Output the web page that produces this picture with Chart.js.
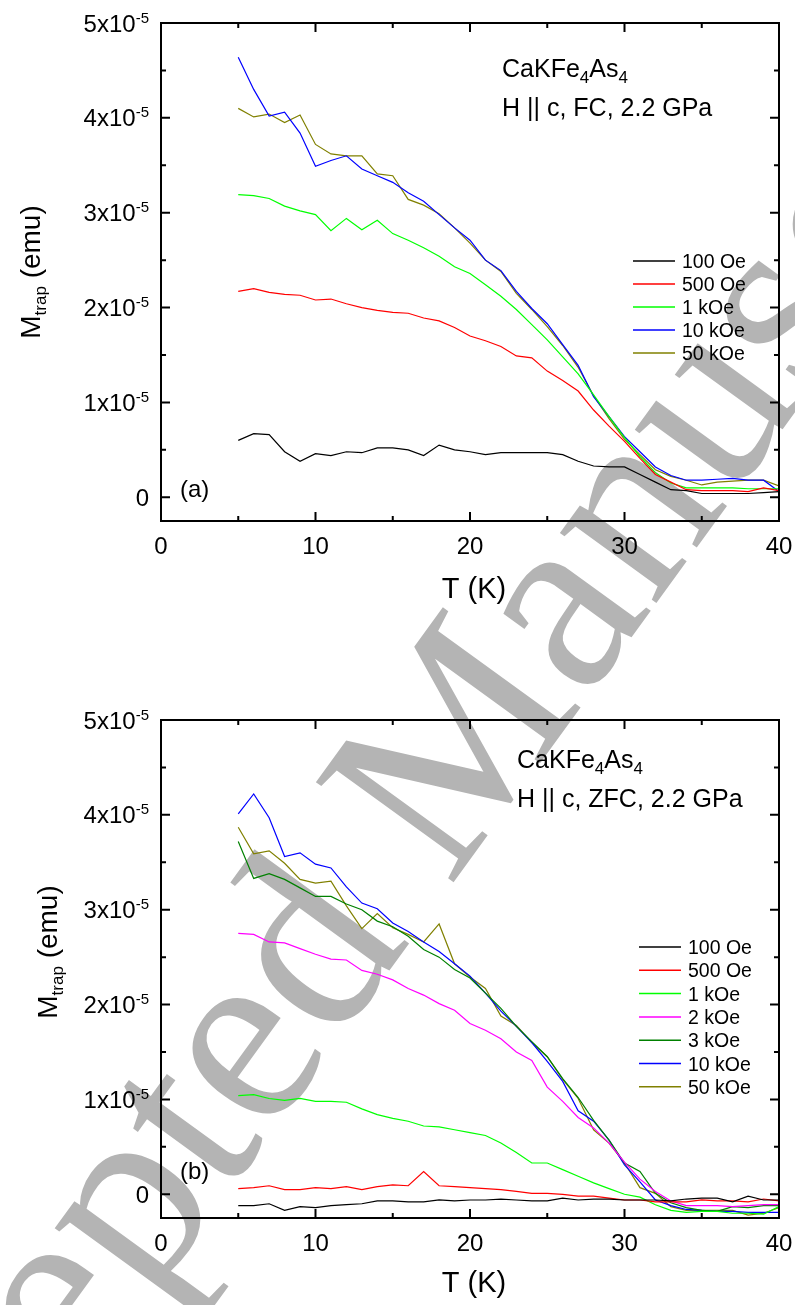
<!DOCTYPE html>
<html>
<head>
<meta charset="utf-8">
<script src="https://cdn.jsdelivr.net/npm/chart.js@4.4.1/dist/chart.umd.min.js"></script>
<style>
  body { margin: 0; background: #fff; }
  #wrap { position: relative; width: 795px; height: 1305px; overflow: hidden; }
  #wm { position: absolute; left: 0; top: 0; }
  .box { position: absolute; left: 0; }
</style>
</head>
<body>
<div id="wrap">
  <canvas id="wm" width="795" height="1305"></canvas>
  <div class="box" style="top:0"><canvas id="g1" width="795" height="640"></canvas></div>
  <div class="box" style="top:640px"><canvas id="g2" width="795" height="665"></canvas></div>
</div>
<script>
// temperature (K)
var temps = [5,6,7,8,9,10,11,12,13,14,15,16,17,18,19,20,21,22,23,24,25,26,27,28,29,30,31,32,33,34,35,36,37,38,39,40];

// (a) FC, M_trap in units of 1e-5 emu
var fc100 = [0.60,0.67,0.66,0.48,0.38,0.46,0.44,0.48,0.47,0.52,0.52,0.50,0.44,0.55,0.50,0.48,
             0.45,0.47,0.47,0.47,0.47,0.45,0.38,0.33,0.32,0.32,0.24,0.16,0.08,0.07,0.04,0.04,0.04,0.04,0.05,0.06];
var fc500 = [2.17,2.20,2.16,2.14,2.13,2.08,2.09,2.04,2.00,1.97,1.95,1.94,1.89,1.86,1.79,1.70,
             1.65,1.59,1.49,1.47,1.33,1.23,1.12,0.92,0.75,0.59,0.41,0.24,0.16,0.08,0.07,0.07,0.07,0.06,0.10,0.07];
var fc1k = [3.19,3.18,3.15,3.07,3.02,2.98,2.81,2.94,2.82,2.92,2.78,2.71,2.63,2.54,2.43,2.36,
            2.24,2.12,1.98,1.82,1.66,1.48,1.30,1.08,0.85,0.63,0.43,0.26,0.15,0.10,0.10,0.10,0.10,0.09,0.09,0.09];
var fc10k = [4.64,4.30,4.02,4.06,3.84,3.49,3.55,3.60,3.46,3.39,3.32,3.21,3.12,2.98,2.84,2.71,
             2.50,2.39,2.17,1.99,1.83,1.61,1.39,1.06,0.85,0.64,0.48,0.32,0.23,0.18,0.18,0.19,0.20,0.18,0.18,0.06];
var fc50k = [4.10,4.01,4.04,3.95,4.03,3.72,3.62,3.60,3.60,3.41,3.39,3.14,3.08,2.99,2.84,2.68,
             2.50,2.38,2.15,1.98,1.80,1.60,1.37,1.07,0.83,0.61,0.45,0.29,0.22,0.18,0.13,0.16,0.17,0.18,0.18,0.12];

// (b) ZFC
var zfc100 = [-0.12,-0.12,-0.10,-0.17,-0.13,-0.14,-0.12,-0.11,-0.10,-0.07,-0.07,-0.08,-0.08,-0.06,-0.07,-0.06,
              -0.06,-0.05,-0.06,-0.07,-0.07,-0.04,-0.06,-0.05,-0.05,-0.06,-0.06,-0.06,-0.07,-0.05,-0.04,-0.04,-0.08,-0.02,-0.06,-0.06];
var zfc500 = [0.06,0.07,0.09,0.05,0.05,0.07,0.06,0.08,0.05,0.08,0.10,0.09,0.24,0.09,0.08,0.07,
              0.06,0.05,0.03,0.01,0.01,0.00,-0.02,-0.02,-0.04,-0.06,-0.06,-0.08,-0.08,-0.08,-0.06,-0.07,-0.07,-0.08,-0.05,-0.07];
var zfc1k = [1.04,1.05,1.01,0.99,1.01,0.98,0.98,0.97,0.90,0.84,0.80,0.77,0.72,0.71,0.68,0.65,
             0.62,0.54,0.44,0.33,0.33,0.26,0.19,0.12,0.06,0.00,-0.03,-0.11,-0.17,-0.19,-0.18,-0.18,-0.20,-0.20,-0.21,-0.13];
var zfc2k = [2.75,2.74,2.66,2.65,2.59,2.53,2.48,2.47,2.36,2.32,2.26,2.17,2.10,2.01,1.94,1.80,
             1.73,1.64,1.50,1.41,1.13,0.98,0.81,0.70,0.54,0.34,0.16,0.03,-0.07,-0.12,-0.12,-0.12,-0.13,-0.12,-0.11,-0.11];
var zfc3k = [3.72,3.33,3.38,3.32,3.23,3.14,3.14,3.06,3.00,2.88,2.82,2.72,2.58,2.50,2.37,2.28,
             2.12,1.96,1.77,1.61,1.45,1.22,1.02,0.78,0.57,0.33,0.24,0.01,-0.09,-0.14,-0.17,-0.18,-0.13,-0.14,-0.12,-0.12];
var zfc10k = [4.01,4.22,3.97,3.56,3.60,3.48,3.44,3.24,3.07,3.01,2.86,2.77,2.66,2.56,2.43,2.30,
              2.12,1.93,1.77,1.60,1.40,1.19,0.88,0.77,0.57,0.31,0.13,-0.06,-0.12,-0.16,-0.17,-0.18,-0.18,-0.19,-0.19,-0.19];
var zfc50k = [3.87,3.59,3.62,3.49,3.32,3.28,3.30,3.04,2.80,2.96,2.81,2.74,2.66,2.85,2.43,2.29,
              2.17,1.88,1.78,1.60,1.45,1.21,1.01,0.68,0.54,0.33,0.07,0.01,-0.13,-0.17,-0.17,-0.17,-0.17,-0.22,-0.20,-0.14];

// axis ticks
var xMajor = [0, 10, 20, 30, 40];
var xMinor = [5, 15, 25, 35];
var yMajor = [0, 1, 2, 3, 4, 5];
var yMinor = [0.5, 1.5, 2.5, 3.5, 4.5];
var yTickLabels = ['0', '1x10', '2x10', '3x10', '4x10', '5x10'];
var yTickExp = '-5';

var labelsA = ['100 Oe', '500 Oe', '1 kOe', '10 kOe', '50 kOe'];
var colorsA = ['#000000', '#ff0000', '#00ff00', '#0000ff', '#808000'];
var labelsB = ['100 Oe', '500 Oe', '1 kOe', '2 kOe', '3 kOe', '10 kOe', '50 kOe'];
var colorsB = ['#000000', '#ff0000', '#00ff00', '#ff00ff', '#008000', '#0000ff', '#808000'];

var FONT = '"Liberation Sans", Arial, sans-serif';

// watermark behind the charts
(function(){
  var c = document.getElementById('wm').getContext('2d');
  c.save();
  c.fillStyle = '#b4b4b4';
  c.font = '260px "Liberation Serif", "Times New Roman", serif';
  c.translate(-166, 1735);
  c.rotate(-54 * Math.PI / 180);
  c.fillText('Accepted Manuscript', 0, 0);
  c.restore();
}());

// draws text pieces, each {t, size, dy}
function drawRich(ctx, parts, x, y) {
  for (var i = 0; i < parts.length; i++) {
    ctx.font = parts[i].size + 'px ' + FONT;
    ctx.fillText(parts[i].t, x, y + (parts[i].dy || 0));
    x += ctx.measureText(parts[i].t).width;
  }
}
function richWidth(ctx, parts) {
  var w = 0;
  for (var i = 0; i < parts.length; i++) {
    ctx.font = parts[i].size + 'px ' + FONT;
    w += ctx.measureText(parts[i].t).width;
  }
  return w;
}

var framePlugin = {
  id: 'frame',
  afterDraw: function(chart, args, o) {
    var ctx = chart.ctx, a = chart.chartArea;
    var xs = chart.scales.x, ys = chart.scales.y;
    ctx.save();
    ctx.strokeStyle = '#000';
    ctx.lineWidth = 2;
    ctx.strokeRect(a.left, a.top, a.right - a.left, a.bottom - a.top);

    ctx.beginPath();
    function xt(v, len) {
      var p = xs.getPixelForValue(v);
      ctx.moveTo(p, a.bottom); ctx.lineTo(p, a.bottom - len);
      ctx.moveTo(p, a.top); ctx.lineTo(p, a.top + len);
    }
    function yt(v, len) {
      var p = ys.getPixelForValue(v);
      ctx.moveTo(a.left, p); ctx.lineTo(a.left + len, p);
      ctx.moveTo(a.right, p); ctx.lineTo(a.right - len, p);
    }
    xMajor.forEach(function(v){ xt(v, 9); });
    xMinor.forEach(function(v){ xt(v, 5); });
    yMajor.forEach(function(v){ yt(v, 9); });
    yMinor.forEach(function(v){ yt(v, 5); });
    ctx.stroke();

    ctx.fillStyle = '#000';
    // x tick labels
    ctx.font = '24px ' + FONT;
    ctx.textAlign = 'center';
    ctx.textBaseline = 'alphabetic';
    xMajor.forEach(function(v){
      ctx.fillText(String(v), xs.getPixelForValue(v), a.bottom + 33);
    });
    // y tick labels with exponent
    ctx.textAlign = 'left';
    yMajor.forEach(function(v, i){
      var p = ys.getPixelForValue(v);
      var parts = [{t: yTickLabels[i], size: 24}];
      if (v !== 0) parts.push({t: yTickExp, size: 15, dy: -9});
      var w = richWidth(ctx, parts);
      drawRich(ctx, parts, 149 - w, p + 8.6);
    });
    // x title
    ctx.font = '29px ' + FONT;
    ctx.textAlign = 'center';
    ctx.fillText('T (K)', (a.left + a.right) / 2 + 4, o.xTitleY);
    ctx.textAlign = 'left';
    // y title, rotated
    var tp = [{t: 'M', size: 28}, {t: 'trap', size: 17, dy: 6}, {t: ' (emu)', size: 28}];
    var tw = richWidth(ctx, tp);
    ctx.save();
    ctx.translate(o.yTitleX, o.yTitleY);
    ctx.rotate(-Math.PI / 2);
    drawRich(ctx, tp, -tw / 2, 10);
    ctx.restore();

    // compound and conditions
    drawRich(ctx, [{t: 'CaKFe', size: 25}, {t: '4', size: 17, dy: 6}, {t: 'As', size: 25}, {t: '4', size: 17, dy: 6}], o.noteX, o.noteY);
    drawRich(ctx, [{t: o.note, size: 25}], o.noteX, o.noteY + 39);
    drawRich(ctx, [{t: o.panel, size: 24}], 180, o.panelY);

    // legend
    ctx.font = '19.5px ' + FONT;
    o.labels.forEach(function(l, i){
      var y = o.legY + i * o.legStep;
      ctx.strokeStyle = o.colors[i];
      ctx.lineWidth = 1.5;
      ctx.beginPath();
      ctx.moveTo(o.legX, y); ctx.lineTo(o.legX + 42, y);
      ctx.stroke();
      ctx.fillText(l, o.legX + 49, y + 7);
    });
    ctx.restore();
  }
};

function makeSets(series, colors) {
  return series.map(function(s, i){
    return {
      data: temps.map(function(t, j){ return {x: t, y: s[j]}; }),
      borderColor: colors[i],
      borderWidth: 1.2,
      pointRadius: 0,
      tension: 0,
      fill: false
    };
  });
}

function makeChart(id, sets, pad, frameOpts) {
  return new Chart(document.getElementById(id), {
    type: 'line',
    data: { datasets: sets },
    options: {
      responsive: false,
      animation: false,
      events: [],
      layout: { padding: pad },
      plugins: { legend: { display: false }, tooltip: { enabled: false }, frame: frameOpts },
      scales: {
        x: { type: 'linear', min: 0, max: 40, display: false },
        y: { type: 'linear', min: -0.25, max: 5, display: false }
      }
    },
    plugins: [framePlugin]
  });
}

makeChart('g1', makeSets([fc100, fc500, fc1k, fc10k, fc50k], colorsA),
  { left: 161, right: 16, top: 23, bottom: 119 },
  { xTitleY: 598, yTitleX: 30, yTitleY: 272, noteX: 502, noteY: 77, note: 'H || c, FC, 2.2 GPa',
    panel: '(a)', panelY: 497, labels: labelsA, colors: colorsA, legX: 633, legY: 261, legStep: 23 });

makeChart('g2', makeSets([zfc100, zfc500, zfc1k, zfc2k, zfc3k, zfc10k, zfc50k], colorsB),
  { left: 161, right: 16, top: 80, bottom: 87 },
  { xTitleY: 652, yTitleX: 47, yTitleY: 312, noteX: 517, noteY: 128, note: 'H || c, ZFC, 2.2 GPa',
    panel: '(b)', panelY: 539, labels: labelsB, colors: colorsB, legX: 639, legY: 307, legStep: 23.3 });
</script>
</body>
</html>
